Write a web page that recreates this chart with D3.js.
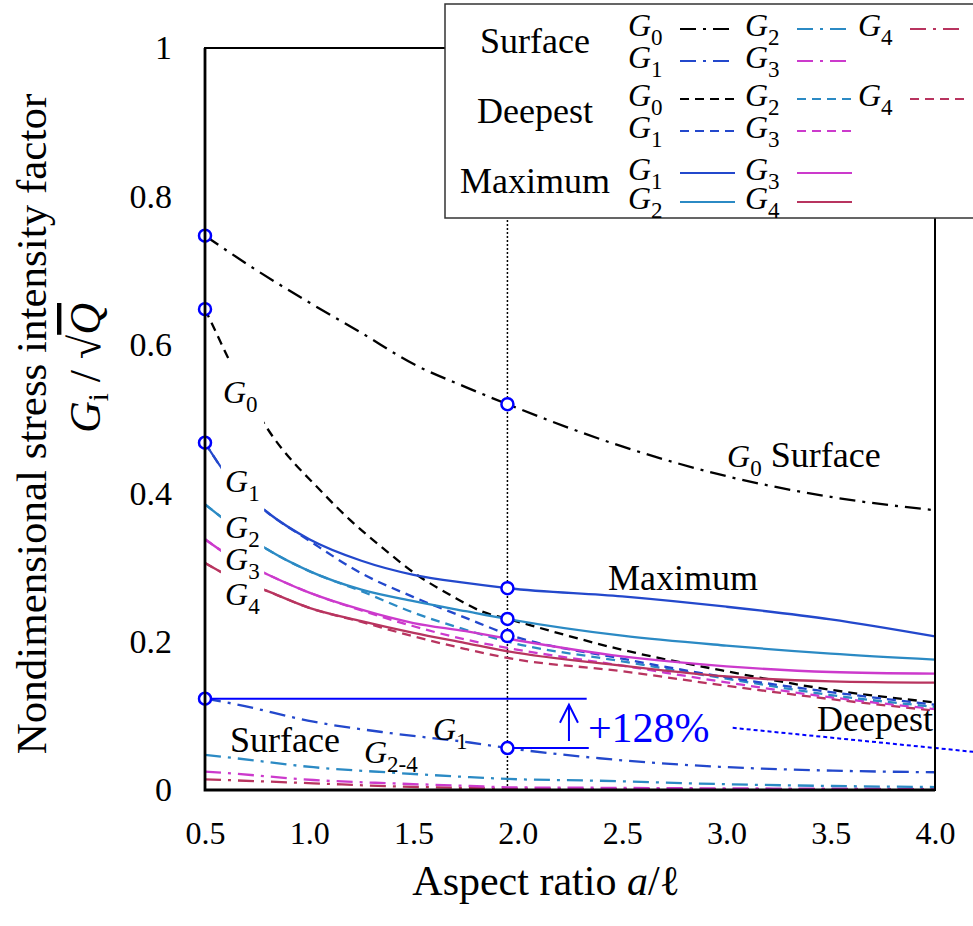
<!DOCTYPE html>
<html>
<head>
<meta charset="utf-8">
<script src="https://cdn.jsdelivr.net/npm/d3@7"></script>
<style>
  body { margin: 0; background: #fff; }
  svg, svg text { font-family: "Liberation Serif", "Times New Roman", "DejaVu Serif", serif; }
</style>
</head>
<body>
<svg id="chart" width="973" height="926" font-family="Liberation Serif, Times New Roman, DejaVu Serif, serif"></svg>
<script>
// ticks
const xTicks = [0.5, 1.0, 1.5, 2.0, 2.5, 3.0, 3.5, 4.0];
const yTicks = [0, 0.2, 0.4, 0.6, 0.8, 1];

// colours for G0..G4
const gColors = ["#000000", "#2348cc", "#2b8ac4", "#cc3acc", "#b8345f"];

// G0 (surface / deepest point)
const g0SurfX = [0.5, 0.75, 1.0, 1.25, 1.5, 1.75, 1.95, 2.5, 3.0, 3.5, 4.0];
const g0Surf = [0.747, 0.70, 0.657, 0.616, 0.574, 0.543, 0.520, 0.463, 0.423, 0.395, 0.377];
const g0DeepX = [0.5, 0.534, 0.62, 0.797, 1.066, 1.195, 1.353, 1.516, 1.675, 1.833, 1.953, 2.5, 3.0, 3.5, 4.0];
const g0Deep = [0.648, 0.628, 0.577, 0.488, 0.400, 0.364, 0.326, 0.290, 0.263, 0.240, 0.2305, 0.189, 0.160, 0.135, 0.118];

// G1..G4, maximum and deepest point
const curveX = [0.5, 0.6, 0.8, 1.0, 1.25, 1.5, 1.75, 1.95, 2.5, 3.0, 3.5, 4.0];
const g1Max = [0.468, 0.426, 0.374, 0.338, 0.309, 0.290, 0.279, 0.272, 0.261, 0.247, 0.230, 0.207];
const g2Max = [0.385, 0.363, 0.324, 0.295, 0.270, 0.2545, 0.241, 0.2305, 0.208, 0.1946, 0.1838, 0.1757];
const g3Max = [0.338, 0.3185, 0.2905, 0.266, 0.243, 0.225, 0.214, 0.204, 0.180, 0.1667, 0.159, 0.1568];
const g4Max = [0.306, 0.2905, 0.268, 0.2455, 0.2275, 0.2117, 0.198, 0.187, 0.1676, 0.153, 0.1464, 0.1446];
const g1Deep = [0.468, 0.426, 0.374, 0.336, 0.292, 0.260, 0.232, 0.210, 0.177, 0.152, 0.132, 0.115];
const g2Deep = [0.385, 0.363, 0.324, 0.295, 0.268, 0.239, 0.216, 0.200, 0.1734, 0.150, 0.128, 0.112];
const g3Deep = [0.338, 0.3185, 0.2905, 0.266, 0.242, 0.2207, 0.2027, 0.1915, 0.1676, 0.145, 0.125, 0.109];
const g4Deep = [0.306, 0.2905, 0.268, 0.2455, 0.2265, 0.207, 0.190, 0.178, 0.160, 0.1405, 0.1225, 0.107];

// G1..G4 at the surface point
const surfX = [0.5, 0.64, 1.02, 1.39, 1.77, 1.95, 2.39, 2.95, 3.51, 4.0];
const g1Surf = [0.123, 0.116, 0.092, 0.0766, 0.064, 0.0566, 0.0428, 0.0315, 0.0261, 0.0239];
const g2Surf = [0.0473, 0.043, 0.0307, 0.0235, 0.0173, 0.0149, 0.0125, 0.0081, 0.0054, 0.004];
const g3Surf = [0.0248, 0.022, 0.0135, 0.009, 0.0055, 0.0036, 0.003, 0.0022, 0.0018, 0.0015];
const g4Surf = [0.0144, 0.013, 0.009, 0.005, 0.0028, 0.002, 0.0016, 0.0013, 0.0011, 0.001];

// open circles (G0 and G1 at a/l = 0.5 and at the reference ratio)
const markX = 1.95;
const markLeft = [0.747, 0.648, 0.468, 0.123];
const markRight = [0.520, 0.272, 0.2305, 0.2075, 0.0566];

// +128% annotation (data units)
const refTop = 0.123, refBottom = 0.0566, refEndX = 2.33, arrowX = 2.245;
const leaderFrom = [3.03, 0.0838], leaderTo = [4.2, 0.051];

const svg = d3.select("#chart");
const x = d3.scaleLinear().domain([0.5, 4.0]).range([205, 935]);
const y = d3.scaleLinear().domain([0, 1]).range([790, 48]);

const serif = "Liberation Serif, Times New Roman, DejaVu Serif, serif";

const styles = {
    surface: "16,7,3,7",
    deepest: "9,6",
    maximum: null
};

const series = [
    { g: 0, type: "surface", xs: g0SurfX, vs: g0Surf },
    { g: 0, type: "deepest", xs: g0DeepX, vs: g0Deep },
    { g: 4, type: "surface", xs: surfX, vs: g4Surf },
    { g: 3, type: "surface", xs: surfX, vs: g3Surf },
    { g: 2, type: "surface", xs: surfX, vs: g2Surf },
    { g: 1, type: "surface", xs: surfX, vs: g1Surf },
    { g: 4, type: "deepest", xs: curveX, vs: g4Deep },
    { g: 3, type: "deepest", xs: curveX, vs: g3Deep },
    { g: 2, type: "deepest", xs: curveX, vs: g2Deep },
    { g: 1, type: "deepest", xs: curveX, vs: g1Deep },
    { g: 4, type: "maximum", xs: curveX, vs: g4Max },
    { g: 3, type: "maximum", xs: curveX, vs: g3Max },
    { g: 2, type: "maximum", xs: curveX, vs: g2Max },
    { g: 1, type: "maximum", xs: curveX, vs: g1Max }
];

// reference vertical line
svg.append("line")
    .attr("x1", x(markX)).attr("x2", x(markX))
    .attr("y1", y(1)).attr("y2", y(0))
    .attr("stroke", "#000").attr("stroke-width", 1.5)
    .attr("stroke-dasharray", "2,2");

const line = d3.line()
    .x(d => x(d[0]))
    .y(d => y(d[1]))
    .curve(d3.curveMonotoneX);

svg.append("g").selectAll("path")
    .data(series)
    .join("path")
    .attr("d", d => line(d.xs.map((a, i) => [a, d.vs[i]])))
    .attr("fill", "none")
    .attr("stroke", d => gColors[d.g])
    .attr("stroke-width", 2.3)
    .attr("stroke-dasharray", d => styles[d.type]);

// helper for "G" with a subscript
function gText(sel, sub, size) {
    sel.attr("font-family", serif);
    sel.append("tspan").attr("font-style", "italic").text("G");
    sel.append("tspan").attr("font-size", size * 0.72).attr("dy", size * 0.27).text(sub);
}

function label(px, py, size, txt) {
    return svg.append("text").attr("x", px).attr("y", py)
        .attr("font-family", serif).attr("font-size", size).text(txt);
}

// labels at the left end of the curves (lines are broken behind them)
const gapLayer = svg.append("g");
const leftLabels = svg.append("g");
const leftLabelPos = [[0.586, 0.5216, "0"], [0.596, 0.4016, "1"], [0.596, 0.3396, "2"], [0.596, 0.2965, "3"], [0.596, 0.2493, "4"]];
leftLabelPos.forEach(p => {
    const t = leftLabels.append("text")
        .attr("x", x(p[0])).attr("y", y(p[1]))
        .attr("font-size", 32);
    gText(t, p[2], 32);
});
const boxes = leftLabels.selectAll("text").nodes().map(n => n.getBBox());
const bx0 = d3.min(boxes, b => b.x) - 2;
const bx1 = d3.max(boxes, b => b.x + b.width) + 4;
const by0 = d3.min(boxes, b => b.y) - 14;
const by1 = d3.max(boxes, b => b.y + b.height);
gapLayer.append("rect")
    .attr("x", bx0).attr("y", by0)
    .attr("width", bx1 - bx0).attr("height", by1 - by0)
    .attr("fill", "#fff");

// other in-plot labels
const g0s = label(x(3.003), y(0.4353), 32, null);
gText(g0s, "0", 32);
g0s.append("tspan").attr("dy", -32 * 0.27).attr("font-size", 36).text(" Surface");

label(x(2.432), y(0.2695), 36, "Maximum");
label(x(3.99), y(0.0795), 36, "Deepest").attr("text-anchor", "end");
label(x(0.62), y(0.0512), 36, "Surface");
gText(label(x(1.593), y(0.0674), 32, null), "1", 32);
gText(label(x(1.262), y(0.0364), 32, null), "2-4", 32);

// +128% annotation
const blue = "#0000ff";
svg.append("line").attr("x1", x(0.5)).attr("x2", x(refEndX))
    .attr("y1", y(refTop)).attr("y2", y(refTop))
    .attr("stroke", blue).attr("stroke-width", 2);
svg.append("line").attr("x1", x(markX)).attr("x2", x(refEndX + 0.01))
    .attr("y1", y(refBottom)).attr("y2", y(refBottom))
    .attr("stroke", blue).attr("stroke-width", 2);
const ax = x(arrowX), ayTop = y(refTop) + 6, ayBot = y(refBottom) - 7;
svg.append("path")
    .attr("d", `M${ax},${ayBot}V${ayTop}M${ax - 9},${ayTop + 18}L${ax},${ayTop}L${ax + 9},${ayTop + 18}`)
    .attr("fill", "none").attr("stroke", blue).attr("stroke-width", 2);
label(x(2.336), y(0.0647), 42, "+128%").attr("fill", blue);
svg.append("line")
    .attr("x1", x(leaderFrom[0])).attr("y1", y(leaderFrom[1]))
    .attr("x2", x(leaderTo[0])).attr("y2", y(leaderTo[1]))
    .attr("stroke", blue).attr("stroke-width", 2).attr("stroke-dasharray", "4,3");

// circles
const marks = markLeft.map(v => [0.5, v]).concat(markRight.map(v => [markX, v]));
svg.append("g").selectAll("circle")
    .data(marks)
    .join("circle")
    .attr("cx", d => x(d[0])).attr("cy", d => y(d[1]))
    .attr("r", 6)
    .attr("fill", "#fff").attr("stroke", blue).attr("stroke-width", 2.5);

// frame
svg.append("rect")
    .attr("x", x(0.5)).attr("y", y(1))
    .attr("width", x(4) - x(0.5)).attr("height", y(0) - y(1))
    .attr("fill", "none").attr("stroke", "#000").attr("stroke-width", 2);
svg.append("path")
    .attr("d", `M${x(0.5)},${y(1)}V${y(0)}H${x(4)}`)
    .attr("fill", "none").attr("stroke", "#000").attr("stroke-width", 2.8);

// axes
svg.append("g")
    .attr("transform", `translate(0,${y(0)})`)
    .call(d3.axisBottom(x).tickValues(xTicks).tickFormat(d3.format(".1f")).tickSize(0).tickPadding(31))
    .attr("font-family", serif).attr("font-size", 32)
    .call(g => g.select(".domain").remove())
    .call(g => g.selectAll(".tick text").attr("fill", "#000"));

svg.append("g")
    .attr("transform", `translate(${x(0.5)},0)`)
    .call(d3.axisLeft(y).tickValues(yTicks).tickFormat(d => (d === 0 || d === 1) ? d : d3.format(".1f")(d)).tickSize(0).tickPadding(33))
    .attr("font-family", serif).attr("font-size", 34)
    .call(g => g.select(".domain").remove())
    .call(g => g.selectAll(".tick text").attr("fill", "#000"));

// axis titles
const xt = label(546, 895, 42, null).attr("text-anchor", "middle");
xt.append("tspan").text("Aspect ratio ");
xt.append("tspan").attr("font-style", "italic").text("a");
xt.append("tspan").text("/\u2113");

svg.append("text")
    .attr("transform", "translate(46,424) rotate(-90)")
    .attr("text-anchor", "middle").attr("font-size", 43)
    .attr("font-family", serif)
    .text("Nondimensional stress intensity factor");

const yt = svg.append("text")
    .attr("transform", "translate(100,368) rotate(-90)")
    .attr("text-anchor", "middle").attr("font-size", 44)
    .attr("font-family", serif);
yt.append("tspan").attr("font-style", "italic").text("G");
yt.append("tspan").attr("font-size", 29).attr("dy", 8).text("i");
yt.append("tspan").attr("dy", -8).text(" / \u221A");
yt.append("tspan").attr("font-style", "italic").attr("text-decoration", "overline").text("Q");

// legend
const legend = svg.append("g");
legend.append("rect")
    .attr("x", 445).attr("y", 4).attr("width", 540).attr("height", 214)
    .attr("fill", "#fff").attr("stroke", "#333").attr("stroke-width", 1.5);

const legendGroups = ["Surface", "Deepest", "Maximum"];
const legendGroupY = [53, 123, 193];
const legendRowY = [29, 61, 99, 131, 173, 202];
const legendColX = [628, 745, 858];
const legendEntries = [
    ["surface", 0, 0, 0], ["surface", 2, 1, 0], ["surface", 4, 2, 0],
    ["surface", 1, 0, 1], ["surface", 3, 1, 1],
    ["deepest", 0, 0, 2], ["deepest", 2, 1, 2], ["deepest", 4, 2, 2],
    ["deepest", 1, 0, 3], ["deepest", 3, 1, 3],
    ["maximum", 1, 0, 4], ["maximum", 3, 1, 4],
    ["maximum", 2, 0, 5], ["maximum", 4, 1, 5]
];

legendGroups.forEach((name, i) => {
    legend.append("text").attr("x", 535).attr("y", legendGroupY[i])
        .attr("text-anchor", "middle").attr("font-size", 36)
        .attr("font-family", serif).text(name);
});

legendEntries.forEach(([type, g, col, row]) => {
    const ly = legendRowY[row];
    const t = legend.append("text")
        .attr("x", legendColX[col]).attr("y", ly + 7).attr("font-size", 32);
    gText(t, String(g), 32);
    legend.append("line")
        .attr("x1", legendColX[col] + 52).attr("x2", legendColX[col] + 107)
        .attr("y1", ly).attr("y2", ly)
        .attr("stroke", gColors[g]).attr("stroke-width", 2)
        .attr("stroke-dasharray", styles[type]);
});
</script>
</body>
</html>
